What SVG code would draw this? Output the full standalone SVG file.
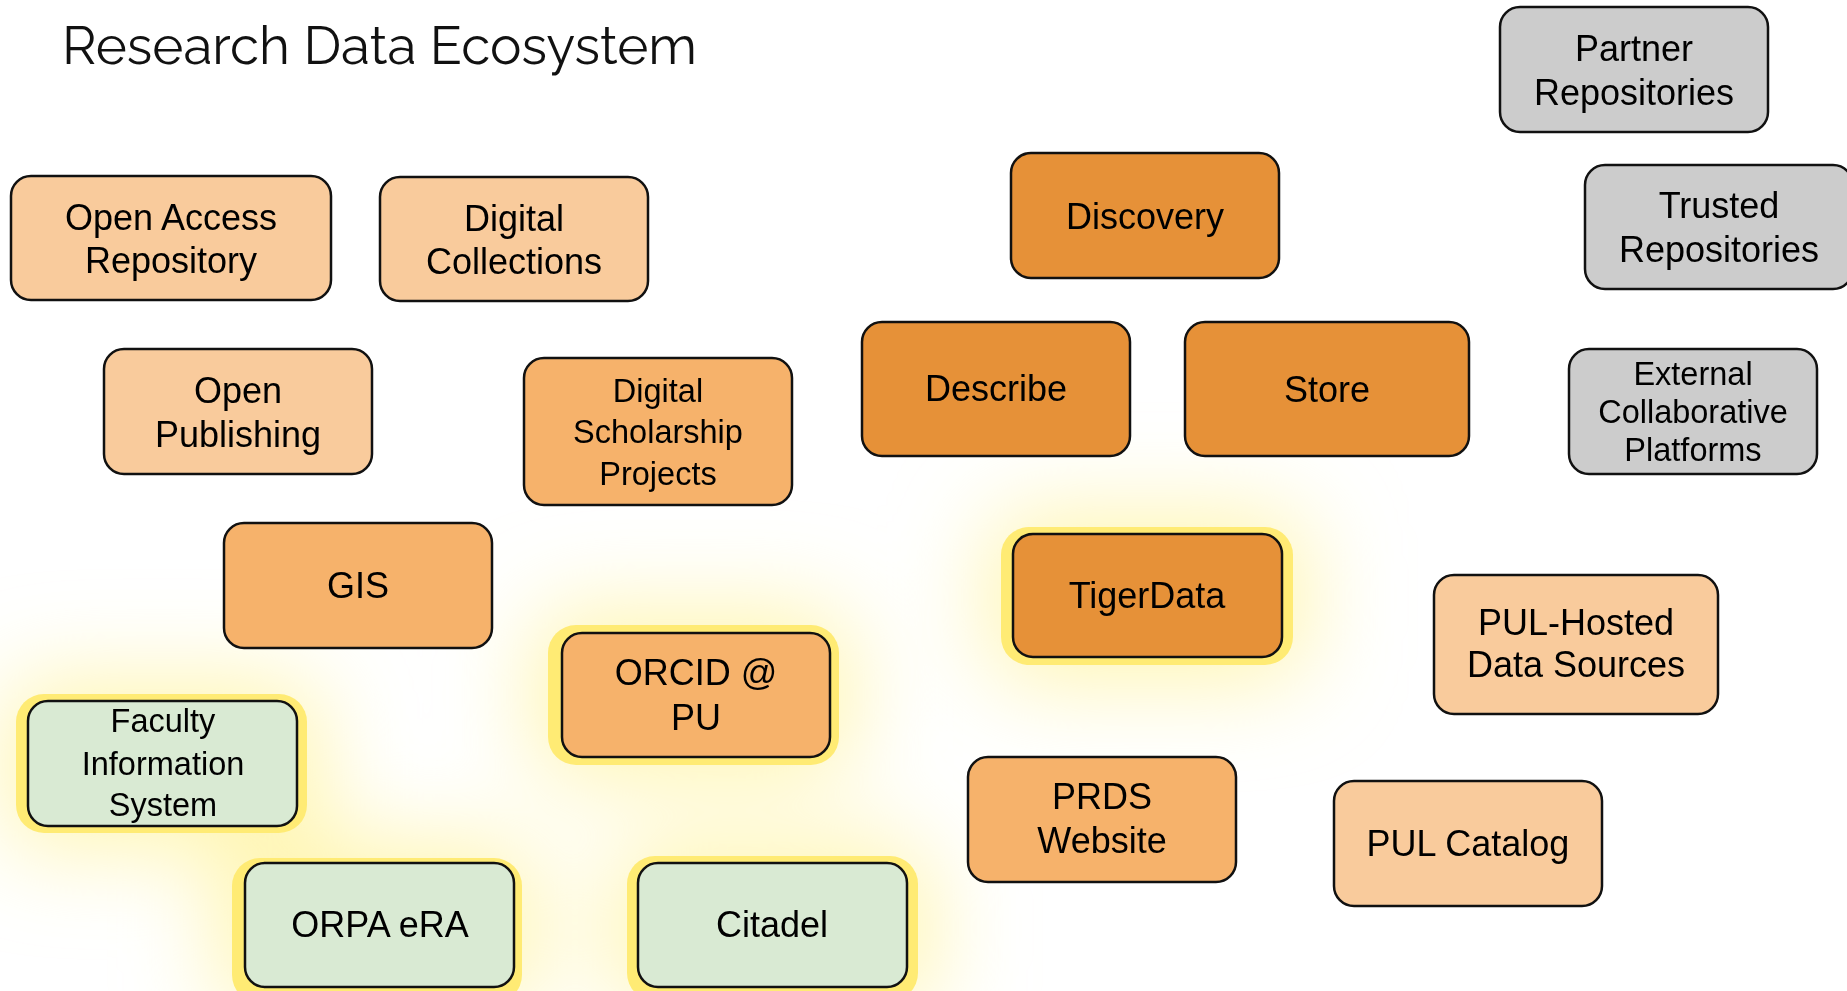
<svg xmlns="http://www.w3.org/2000/svg" width="1847" height="991" viewBox="0 0 1847 991">
<style>
.box{stroke:#111;stroke-width:2.5}
.l{fill:#f9cb9c}
.m{fill:#f6b26b}
.d{fill:#e69138}
.g{fill:#cccccc}
.gr{fill:#d9ead3}
.ring{fill:#ffeb74}
.halo{fill:#fff39a;opacity:0.8}
text{font-family:"Liberation Sans",Arial,sans-serif;fill:#000;text-anchor:middle}
.t36{font-size:36px}
.t33{font-size:32.5px}
.title{font-family:Raleway,Lato,"Open Sans",sans-serif;font-weight:400;font-size:52px;text-anchor:start;fill:#111}
</style>
<defs>
<filter id="blur" x="-100%" y="-100%" width="300%" height="300%"><feGaussianBlur stdDeviation="48"/></filter>
</defs>
<rect width="1847" height="991" fill="#fff"/>
<g id="halos" filter="url(#blur)">
<rect class="halo" x="990" y="515" width="315" height="165" rx="30"/>
<rect class="halo" x="535" y="612" width="315" height="165" rx="30"/>
<rect class="halo" x="5" y="682" width="315" height="165" rx="30"/>
<rect class="halo" x="220" y="845" width="315" height="165" rx="30"/>
<rect class="halo" x="615" y="845" width="315" height="165" rx="30"/>
</g>
<text class="title" x="62" y="64" textLength="635" lengthAdjust="spacingAndGlyphs">Research Data Ecosystem</text>
<g id="connectors"></g>
<g id="open-access-repository"><rect class="box l" x="11" y="176" width="320" height="124" rx="20"/><text class="t36" x="171" y="230">Open Access</text><text class="t36" x="171" y="273">Repository</text></g>
<g id="digital-collections"><rect class="box l" x="380" y="177" width="268" height="124" rx="20"/><text class="t36" x="514" y="231">Digital</text><text class="t36" x="514" y="274">Collections</text></g>
<g id="discovery"><rect class="box d" x="1011" y="153" width="268" height="125" rx="20"/><text class="t36" x="1145" y="229">Discovery</text></g>
<g id="partner-repositories"><rect class="box g" x="1500" y="7" width="268" height="125" rx="20"/><text class="t36" x="1634" y="61">Partner</text><text class="t36" x="1634" y="105">Repositories</text></g>
<g id="trusted-repositories"><rect class="box g" x="1585" y="165" width="268" height="124" rx="20"/><text class="t36" x="1719" y="218">Trusted</text><text class="t36" x="1719" y="262">Repositories</text></g>
<g id="open-publishing"><rect class="box l" x="104" y="349" width="268" height="125" rx="20"/><text class="t36" x="238" y="403">Open</text><text class="t36" x="238" y="447">Publishing</text></g>
<g id="digital-scholarship-projects"><rect class="box m" x="524" y="358" width="268" height="147" rx="20"/><text class="t33" x="658" y="402">Digital</text><text class="t33" x="658" y="443">Scholarship</text><text class="t33" x="658" y="485">Projects</text></g>
<g id="describe"><rect class="box d" x="862" y="322" width="268" height="134" rx="20"/><text class="t36" x="996" y="401">Describe</text></g>
<g id="store"><rect class="box d" x="1185" y="322" width="284" height="134" rx="20"/><text class="t36" x="1327" y="402">Store</text></g>
<g id="external-collaborative-platforms"><rect class="box g" x="1569" y="349" width="248" height="125" rx="20"/><text class="t33" x="1693" y="385">External</text><text class="t33" x="1693" y="423">Collaborative</text><text class="t33" x="1693" y="461">Platforms</text></g>
<g id="gis"><rect class="box m" x="224" y="523" width="268" height="125" rx="20"/><text class="t36" x="358" y="598">GIS</text></g>
<g id="tigerdata"><rect class="ring" x="1001" y="527" width="292" height="138" rx="28"/><rect class="box d" x="1013" y="534" width="269" height="123" rx="20"/><text class="t36" x="1147" y="608">TigerData</text></g>
<g id="pul-hosted-data-sources"><rect class="box l" x="1434" y="575" width="284" height="139" rx="20"/><text class="t36" x="1576" y="635">PUL-Hosted</text><text class="t36" x="1576" y="677">Data Sources</text></g>
<g id="orcid-pu"><rect class="ring" x="548" y="625" width="291" height="140" rx="28"/><rect class="box m" x="562" y="633" width="268" height="124" rx="20"/><text class="t36" x="696" y="685">ORCID @</text><text class="t36" x="696" y="730">PU</text></g>
<g id="faculty-information-system"><rect class="ring" x="16" y="694" width="291" height="139" rx="28"/><rect class="box gr" x="28" y="701" width="269" height="125" rx="20"/><text class="t33" x="163" y="732">Faculty</text><text class="t33" x="163" y="775">Information</text><text class="t33" x="163" y="816">System</text></g>
<g id="prds-website"><rect class="box m" x="968" y="757" width="268" height="125" rx="20"/><text class="t36" x="1102" y="809">PRDS</text><text class="t36" x="1102" y="853">Website</text></g>
<g id="pul-catalog"><rect class="box l" x="1334" y="781" width="268" height="125" rx="20"/><text class="t36" x="1468" y="856">PUL Catalog</text></g>
<g id="orpa-era"><rect class="ring" x="232" y="858" width="290" height="145" rx="28"/><rect class="box gr" x="245" y="863" width="269" height="124" rx="20"/><text class="t36" x="380" y="937">ORPA eRA</text></g>
<g id="citadel"><rect class="ring" x="627" y="856" width="291" height="145" rx="28"/><rect class="box gr" x="638" y="863" width="269" height="124" rx="20"/><text class="t36" x="772" y="937">Citadel</text></g>
</svg>
